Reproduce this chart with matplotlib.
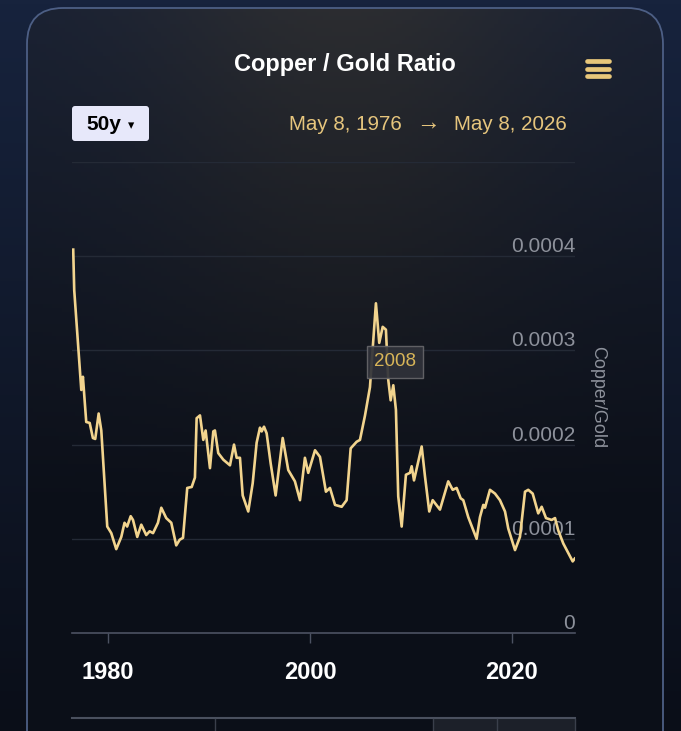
import numpy as np
import matplotlib
matplotlib.use('Agg')
import matplotlib.pyplot as plt
from matplotlib.colors import LinearSegmentedColormap
from matplotlib.patches import FancyBboxPatch, Rectangle
from matplotlib.lines import Line2D

# ==================== DATA ====================
years = [
    1976.56, 1976.66, 1977.36, 1977.52, 1977.67, 1977.85, 1978.19, 1978.51, 1978.74, 1979.08,
    1979.34, 1979.93, 1980.33, 1980.82, 1981.32, 1981.64, 1981.90, 1982.25, 1982.48, 1982.90,
    1983.30, 1983.79, 1984.13, 1984.46, 1984.95, 1985.28, 1985.77, 1986.27, 1986.76, 1987.10,
    1987.43, 1987.85, 1988.29, 1988.61, 1988.78, 1989.11, 1989.44, 1989.67, 1990.10, 1990.43,
    1990.59, 1990.92, 1991.42, 1992.08, 1992.48, 1992.74, 1993.07, 1993.34, 1993.89, 1994.33,
    1994.72, 1995.05, 1995.22, 1995.45, 1995.71, 1996.11, 1996.60, 1997.30, 1997.85, 1998.51,
    1999.01, 1999.50, 1999.83, 2000.50, 2000.99, 2001.58, 2001.98, 2002.48, 2003.14, 2003.63,
    2004.03, 2004.62, 2004.95, 2005.45, 2005.94, 2006.27, 2006.53, 2006.86, 2007.20, 2007.52,
    2007.75, 2007.99, 2008.25, 2008.51, 2008.74, 2009.08, 2009.50, 2009.90, 2010.07, 2010.30,
    2011.06, 2011.39, 2011.81, 2012.15, 2012.87, 2013.69, 2014.13, 2014.52, 2014.92, 2015.18,
    2015.67, 2016.50, 2016.83, 2017.16, 2017.33, 2017.82, 2018.32, 2018.81, 2019.31, 2019.63,
    2020.30, 2020.79, 2021.29, 2021.61, 2022.05, 2022.60, 2022.94, 2023.37, 2023.93, 2024.26,
    2024.58, 2025.08, 2025.57, 2026.01, 2026.22,
]
ratio_e4 = [
    4.07, 3.64, 2.58, 2.72, 2.50, 2.24, 2.23, 2.07, 2.06, 2.33,
    2.15, 1.13, 1.06, 0.89, 1.02, 1.17, 1.13, 1.24, 1.20, 1.02,
    1.15, 1.04, 1.08, 1.06, 1.17, 1.33, 1.22, 1.17, 0.93, 0.99,
    1.01, 1.54, 1.55, 1.65, 2.28, 2.31, 2.05, 2.15, 1.75, 2.14,
    2.15, 1.91, 1.84, 1.78, 2.00, 1.86, 1.86, 1.46, 1.29, 1.59,
    2.02, 2.18, 2.14, 2.19, 2.12, 1.80, 1.46, 2.07, 1.73, 1.61,
    1.41, 1.86, 1.70, 1.94, 1.87, 1.50, 1.54, 1.36, 1.34, 1.41,
    1.96, 2.03, 2.05, 2.31, 2.61, 3.11, 3.50, 3.08, 3.25, 3.22,
    2.69, 2.47, 2.63, 2.37, 1.45, 1.13, 1.68, 1.70, 1.77, 1.62,
    1.98, 1.66, 1.29, 1.41, 1.31, 1.61, 1.52, 1.54, 1.43, 1.41,
    1.23, 1.00, 1.23, 1.36, 1.33, 1.52, 1.48, 1.41, 1.29, 1.11,
    0.88, 1.02, 1.50, 1.52, 1.48, 1.27, 1.34, 1.22, 1.20, 1.22,
    1.09, 0.95, 0.85, 0.76, 0.79,
]
ratio = np.array(ratio_e4) * 1e-4

x_ticks = [1980, 2000, 2020]
x_tick_labels = ['1980', '2000', '2020']
y_ticks = [0, 0.0001, 0.0002, 0.0003, 0.0004]
y_tick_labels = ['0', '0.0001', '0.0002', '0.0003', '0.0004']
y_grid = [0.0001, 0.0002, 0.0003, 0.0004, 0.0005]

title = 'Copper / Gold Ratio'
range_label = '50y'
start_label = 'May 8, 1976'
end_label = 'May 8, 2026'
tooltip_label = '2008'

# ==================== STYLE ====================
plt.rcParams['font.family'] = ['Liberation Sans', 'DejaVu Sans']
GOLD = '#f2d48e'
GOLD_TXT = '#e6c57d'
GREY = '#8d919b'

W, H = 681, 731
fig = plt.figure(figsize=(W / 100, H / 100), dpi=100)
fig.patch.set_facecolor('#0f1a30')


def fx(px):
    return px / W


def fy(py):
    return 1 - py / H


# ==================== BACKGROUND / CARD ====================
bg = fig.add_axes([0, 0, 1, 1])
bg.set_xlim(0, W)
bg.set_ylim(H, 0)
bg.axis('off')

gx = np.linspace(-1, 1, 200)
gy = np.linspace(0, 1, 200)
GX, GY = np.meshgrid(gx, gy)

# outer page: bluish at the top, near black at the bottom
outer = 1 - GY
bg.imshow(outer, extent=[0, W, H, 0], aspect='auto', zorder=0,
          cmap=LinearSegmentedColormap.from_list('o', ['#0a0e18', '#17233d']))

card = FancyBboxPatch((27, 8), 636, 800, boxstyle='round,pad=0,rounding_size=36',
                      facecolor='none', edgecolor='#4d5f85', linewidth=1.3, zorder=3)
bg.add_patch(card)

# card fill: dark navy, bluish at top corners, greyish glow near the top middle
base = np.clip(1 - GY * 1.6, 0, 1)
glow = np.exp(-(GX ** 2) * 2.5) * base
rgb_low = np.array([0.045, 0.06, 0.095])
rgb_blue = np.array([0.10, 0.13, 0.20])
rgb_glow = np.array([0.17, 0.175, 0.19])
img = (rgb_low[None, None, :] * (1 - base[..., None])
       + rgb_blue[None, None, :] * base[..., None] * (1 - glow[..., None] / np.maximum(base[..., None], 1e-6))
       + rgb_glow[None, None, :] * glow[..., None])
img = np.clip(img, 0, 1)
im = bg.imshow(img, extent=[27, 663, 808, 8], aspect='auto', zorder=1)
im.set_clip_path(card)

# ==================== HEADER ====================
fig.text(fx(345), fy(64), title, color='white', fontsize=17, fontweight='bold',
         ha='center', va='center')

for yy in (60.5, 68.5, 76):
    bg.add_line(Line2D([586.5, 608.5], [yy, yy], color='#e8c77a', linewidth=3.4,
                       solid_capstyle='round', zorder=5))

btn = FancyBboxPatch((72, 106), 77, 35, boxstyle='round,pad=0,rounding_size=3',
                     facecolor='#e7e8fa', edgecolor='none', zorder=5)
bg.add_patch(btn)
fig.text(fx(86), fy(124), range_label, color='black', fontsize=15, fontweight='bold',
         ha='left', va='center')
fig.text(fx(131), fy(126), '▾', color='black', fontsize=9, ha='center', va='center',
         family=['DejaVu Sans'])

fig.text(fx(345), fy(124), start_label, color=GOLD_TXT, fontsize=14.8,
         ha='center', va='center')
fig.text(fx(428), fy(123), '→', color=GOLD_TXT, fontsize=17, ha='center', va='center')
fig.text(fx(510), fy(124), end_label, color=GOLD_TXT, fontsize=14.8,
         ha='center', va='center')

# ==================== MAIN CHART ====================
ax = fig.add_axes([fx(72), fy(633), fx(575) - fx(72), fy(162) - fy(633)])
ax.set_facecolor('none')
ax.set_xlim(1976.44, 2026.24)
ax.set_ylim(0, 0.0005)

for v in y_grid:
    ax.axhline(v, color='#242a36', linewidth=1, zorder=1)

ax.plot(years, ratio, color=GOLD, linewidth=1.9, solid_joinstyle='round', zorder=4)

for v, lab in zip(y_ticks, y_tick_labels):
    ax.annotate(lab, xy=(1, v), xycoords=ax.get_yaxis_transform(),
                xytext=(0, 0), textcoords='offset points', ha='right', va='bottom',
                color=GREY, fontsize=15, zorder=2)

ax.set_yticks([])
for s in ('left', 'right', 'top'):
    ax.spines[s].set_visible(False)
ax.spines['bottom'].set_color('#4c5262')
ax.spines['bottom'].set_linewidth(1.2)
ax.set_xticks(x_ticks)
ax.set_xticklabels(x_tick_labels, color='white', fontsize=17, fontweight='bold')
ax.tick_params(axis='x', direction='out', length=7, width=1, color='#4c5262', pad=13)

fig.text(fx(598), fy(397), 'Copper/Gold', color=GREY, fontsize=13, rotation=-90,
         ha='center', va='center')

# tooltip
ax.annotate(tooltip_label, xy=(2007.75, ratio_e4[80] * 1e-4), xycoords='data',
            xytext=(fx(395), fy(362)), textcoords='figure fraction',
            ha='center', va='center', color='#d8b558', fontsize=13.5, zorder=6,
            bbox=dict(boxstyle='square,pad=0.38', facecolor='#30323a', edgecolor='#66666a',
                      linewidth=1, alpha=0.92))

# ==================== NAVIGATOR ====================
bg.add_line(Line2D([72, 575], [718, 718], color='#4a505e', linewidth=1.5, zorder=5))
bg.add_patch(Rectangle((433, 719), 142, 20, facecolor='#1c2029', edgecolor='none', zorder=4))
for xx in (215, 433, 497, 575):
    bg.add_line(Line2D([xx, xx], [719, 731], color='#3a3f4b', linewidth=1, zorder=5))

fig.savefig('out.png', dpi=100, facecolor=fig.get_facecolor())
